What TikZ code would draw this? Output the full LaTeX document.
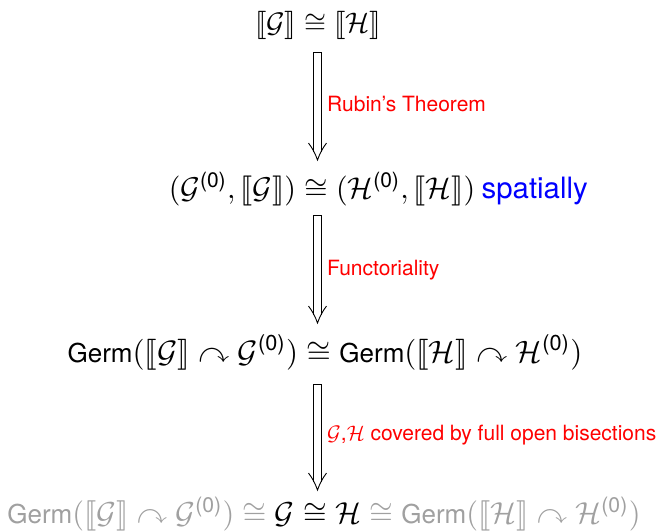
\documentclass[tikz,border=0pt]{standalone}
\usepackage{amsmath}
\usepackage{amssymb}
\usepackage{stmaryrd}
\usepackage{graphicx}
\usepackage{fontspec}
\setmainfont{TeX Gyre Heros}
\usetikzlibrary{calc}
\definecolor{lbl}{RGB}{255,0,0}
\definecolor{spat}{RGB}{0,0,255}
\definecolor{faded}{RGB}{160,160,160}
\newcommand\zr{^{\text{(0)}}}
\newcommand\sizedtxt[2]{\scalebox{#1}{\fontsize{10}{12}\selectfont #2}}
\newcommand\mth[2]{\scalebox{#1}{$#2$}}
\tikzset{
  row/.style={inner sep=0pt, anchor=base},
  lab/.style={inner sep=0pt, anchor=base west, text=lbl},
  arrline/.style={line width=0.9pt, line join=miter},
}
\newcommand\dblarr[2]{%
  \draw[arrline] ($(#2)+(-4.2,8)$) -- ($(#1)+(-4.2,0)$) -- ($(#1)+(4.2,0)$) -- ($(#2)+(4.2,8)$);
  \draw[arrline] ($(#2)+(-9,17)$) to[bend left=8] (#2) to[bend left=8] ($(#2)+(9,17)$);
}
\begin{document}
\begin{tikzpicture}[x=1pt,y=1pt]
\useasboundingbox (0,0) rectangle (663,-531);
\node[row] (r1) at (318,-32) {\sizedtxt{2.5}{\mth{1.13}{\llbracket\mathcal{G}\rrbracket\cong\llbracket\mathcal{H}\rrbracket}}};
\node[row] (r2) at (322,-198) {\sizedtxt{2.5}{\mth{1.2}{(\mathcal{G}\zr,\llbracket\mathcal{G}\rrbracket)\cong(\mathcal{H}\zr,\llbracket\mathcal{H}\rrbracket)}}};
\node[row, anchor=base west, text=spat] (sp) at ($(r2.base east)+(6,0)$) {\sizedtxt{2.45}{\fontsize{12}{14}\selectfont spatially}};
\node[row] (r3) at (325,-362) {\sizedtxt{2.6}{Germ\mth{1.19}{(\llbracket\mathcal{G}\rrbracket\curvearrowright\mathcal{G}\zr)\cong{}}Germ\mth{1.19}{(\llbracket\mathcal{H}\rrbracket\curvearrowright\mathcal{H}\zr)}}};
\node[row] (r4) at (324,-523) {\sizedtxt{2.6}{\color{faded}Germ\mth{1.165}{(\llbracket\mathcal{G}\rrbracket\curvearrowright\mathcal{G}\zr)\cong{}\color{black}\mathcal{G}\cong\mathcal{H}\color{faded}\cong{}}Germ\mth{1.165}{(\llbracket\mathcal{H}\rrbracket\curvearrowright\mathcal{H}\zr)}}};
\coordinate (a1t) at (317.5,-52);
\coordinate (a1b) at (317.5,-160);
\coordinate (a2t) at (317.5,-215);
\coordinate (a2b) at (317.5,-323);
\coordinate (a3t) at (317.5,-384);
\coordinate (a3b) at (317.5,-490);
\dblarr{a1t}{a1b}
\dblarr{a2t}{a2b}
\dblarr{a3t}{a3b}
\node[lab] (l1) at (327,-111) {\sizedtxt{2.1}{Rubin’s Theorem}};
\node[lab] (l2) at (327,-275) {\sizedtxt{2.1}{Functoriality}};
\node[lab] (l3) at (327,-440) {\sizedtxt{2.1}{$\mathcal{G}$,$\mathcal{H}$ covered by full open bisections}};
\end{tikzpicture}
\end{document}
